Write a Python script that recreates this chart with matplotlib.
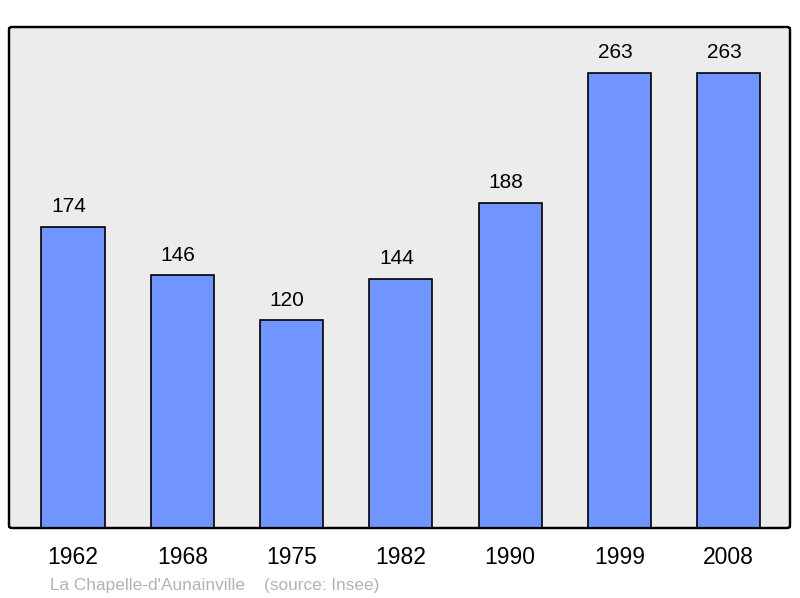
import matplotlib
matplotlib.use("Agg")
import matplotlib.pyplot as plt
from matplotlib.patches import FancyBboxPatch

years = ["1962", "1968", "1975", "1982", "1990", "1999", "2008"]
population = [174, 146, 120, 144, 188, 263, 263]
caption = "La Chapelle-d'Aunainville    (source: Insee)"

plt.rcParams['font.family'] = ['Liberation Sans', 'DejaVu Sans']

fig = plt.figure(figsize=(8, 5.98), dpi=100)
ax = fig.add_axes([9/800, 70/598, 781/800, 501/598])
ax.set_facecolor('none')

x = list(range(len(years)))
bars = ax.bar(x, population, width=0.578, color='#7095ff', edgecolor='black',
              linewidth=1.2, zorder=3)
for xi, v in zip(x, population):
    ax.annotate(str(v), (xi, v), xytext=(-3.2, 10.5), textcoords='offset points',
                ha='center', va='baseline', fontsize=15, color='black')

ax.set_xlim(-0.585, 6.56)
ax.set_ylim(0, 289.6)
ax.set_xticks(x)
ax.set_xticklabels(years, fontsize=16.5)
ax.tick_params(axis='x', length=0, pad=13.2)
ax.set_yticks([])
for s in ax.spines.values():
    s.set_visible(False)

frame = FancyBboxPatch((0, 0), 1, 1, boxstyle="round,pad=0,rounding_size=0.004",
                       transform=ax.transAxes, facecolor='#ececec',
                       edgecolor='black', linewidth=1.6, zorder=0, clip_on=False)
ax.add_patch(frame)
frame2 = FancyBboxPatch((0, 0), 1, 1, boxstyle="round,pad=0,rounding_size=0.004",
                        transform=ax.transAxes, facecolor='none',
                        edgecolor='black', linewidth=1.6, zorder=5, clip_on=False)
ax.add_patch(frame2)

fig.text(49.5/800, 1 - 585.5/598, caption, fontsize=12.4, color='#b3b3b3',
         ha='left', va='center')

fig.savefig('out.png', dpi=100)
